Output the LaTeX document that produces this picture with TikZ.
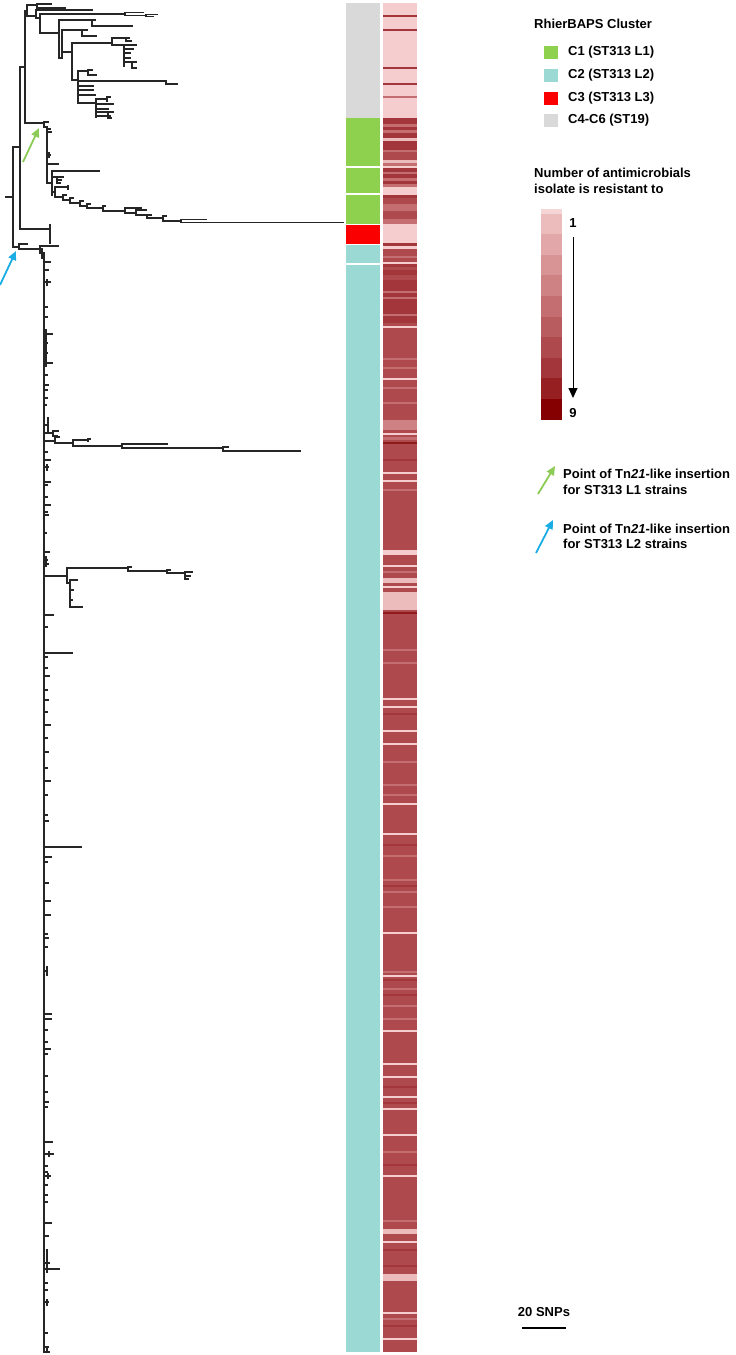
\documentclass[tikz,border=0pt]{standalone}
\usepackage{fontspec}
\setmainfont{Liberation Sans}
\usetikzlibrary{arrows.meta}
\definecolor{cgreen}{HTML}{8ED14F}
\definecolor{cteal}{HTML}{9AD9D4}
\definecolor{cred}{HTML}{FA0000}
\definecolor{cgray}{HTML}{D9D9D9}
\definecolor{hp}{HTML}{F5CDCE}
\definecolor{ha}{HTML}{ECBCBD}
\definecolor{hm}{HTML}{C46E72}
\definecolor{hb}{HTML}{AE4A4E}
\definecolor{hd}{HTML}{A2363A}
\definecolor{hx}{HTML}{8E1A1A}
\definecolor{l0}{HTML}{F5D5D5}
\definecolor{l1}{HTML}{ECBCBD}
\definecolor{l2}{HTML}{E2A7A8}
\definecolor{l3}{HTML}{D89495}
\definecolor{l4}{HTML}{CF8284}
\definecolor{l5}{HTML}{C46E72}
\definecolor{l6}{HTML}{B95C60}
\definecolor{l7}{HTML}{AE4A4E}
\definecolor{l8}{HTML}{A2363A}
\definecolor{l9}{HTML}{961F22}
\definecolor{l10}{HTML}{850000}
\definecolor{agreen}{HTML}{8CCB55}
\definecolor{ablue}{HTML}{1AADE4}
\tikzset{
  tree/.style={line width=1.1pt, draw=black!85, line cap=rect},
  lab/.style={font=\fontsize{13}{15}\selectfont\bfseries, inner sep=0pt, anchor=west},
  ptr/.style={line width=1.8pt, -{Triangle[length=9pt,width=8pt]}},
}
\newcommand\tH[3]{\draw[tree] (#1,#3)--(#2,#3);}
\newcommand\tV[3]{\draw[tree] (#1,#2)--(#1,#3);}
\begin{document}
\begin{tikzpicture}[x=1pt,y=-1pt]
\useasboundingbox (0,0) rectangle (736,1355);
% ---------------- tree: root
\tH{6}{13}{197} \tV{13}{147}{247}
\tH{13}{20}{147} \tV{20}{67}{229}
\tH{20}{25}{67} \tV{25}{11}{123}
% ST19
\tH{25}{27}{11} \tV{27}{5}{16}
\tH{27}{37}{5} \tV{37}{4}{8} \tH{37}{51}{4} \tH{37}{65}{8}
\tH{27}{36}{16} \tV{36}{10}{18} \tH{36}{92}{10}
\tH{36}{40}{18} \tV{40}{14}{33}
\tH{40}{125}{14} \tV{125}{12.5}{15.5} \tH{125}{143}{12.5} \tH{125}{146}{15.5}
\tV{146}{14.5}{16.5} \tH{146}{157}{14.5} \tH{146}{153}{16.5}
\tH{40}{59}{33} \tV{59}{20}{58}
\tH{59}{95}{20} \tV{92}{20}{26} \tH{92}{132}{26}
\tH{59}{62}{58} \tV{62}{30}{58}
\tH{62}{82}{30} \tV{82}{30}{36} \tH{82}{87}{30} \tH{82}{96}{36}
\tH{62}{72}{52} \tV{72}{43}{80}
\tH{72}{112}{43} \tV{112}{38}{45} \tH{112}{126}{38} \tV{126}{38}{41} \tH{126}{129}{38} \tH{126}{131}{41}
\tH{112}{124}{45} \tV{124}{45}{66}
\tH{124}{136}{45} \tH{124}{133}{49} \tH{124}{130}{53} \tH{124}{130}{58} \tH{124}{136}{62}
\tV{132}{62}{68} \tH{132}{136}{68}
\tH{72}{78}{80} \tV{78}{71}{103}
\tH{78}{88}{71} \tV{88}{70}{75} \tH{88}{92}{70} \tH{88}{96}{75}
\tH{78}{166}{81} \tV{166}{81}{84} \tH{166}{177}{84}
\tH{78}{93}{86} \tH{78}{93}{90} \tH{78}{95}{95}
\tH{78}{96}{103} \tV{96}{99}{117}
\tH{96}{107}{99} \tV{107}{97}{101} \tH{107}{110}{97}
\tH{96}{113}{104} \tH{96}{108}{109} \tH{96}{113}{112}
\tV{108}{113}{118} \tH{108}{111}{118} \tH{96}{110}{116}
% L1
\tH{25}{44}{123} \tV{44}{122}{127} \tH{44}{48}{122} \tH{44}{47}{127}
\tV{47}{127}{183}
\tH{47}{50}{129} \tH{47}{51}{132} \tH{47}{50}{155} \tV{49}{153}{157} \tH{47}{58}{164}
\tH{47}{52}{183} \tV{52}{171}{195}
\tH{52}{99}{171}
\tH{52}{57}{177} \tV{57}{177}{183} \tH{57}{63}{177} \tH{57}{61}{180} \tH{57}{60}{183}
\tH{52}{55}{192} \tV{55}{187}{197} \tH{55}{68}{187} \tV{68}{186}{189}
\tH{55}{63}{197} \tV{63}{195}{200} \tH{63}{66}{195}
\tH{63}{70}{200} \tV{70}{198}{203} \tH{70}{73}{198}
\tH{70}{80}{203} \tV{80}{201}{206} \tH{80}{83}{201}
\tH{80}{87}{206} \tV{87}{204}{208} \tH{87}{90}{204}
\tH{87}{103}{208} \tV{103}{206}{211} \tH{103}{105}{206}
\tH{103}{125}{211} \tV{125}{208}{213} \tH{125}{141}{208} \tH{125}{136}{213}
\tV{136}{210}{215} \tH{136}{146}{210} \tH{136}{147}{215}
\tV{147}{215}{218} \tH{147}{151}{215}
\tH{147}{163}{218} \tV{163}{216}{221} \tH{163}{166}{216}
\tH{163}{181}{221} \tV{181}{219.5}{222.5} \tH{181}{206}{219.5} \tH{181}{343}{222.5}
% L3
\tH{20}{50}{229} \tV{50}{225}{243}
% L2
\tH{13}{19}{247} \tV{19}{244}{249} \tH{19}{27}{244}
\tH{19}{40}{249} \tV{40}{246}{253} \tH{40}{58}{246} \tH{40}{44}{253}
\tV{42}{249}{258}
\tV{44}{253}{1352}
\foreach \y/\x in {262/50,270/48,282/50,307/47,317/47,330/46,334/52,343/47,353/47,363/52,375/47,385/48,390/47,398/47,405/46,
  452/47,460/50,482/50,485/47,497/47,505/50,512/47,515/48,533/46,552/49,560/47,564/48,
  615/53,627/47,653/72,657/47,668/47,676/49,690/47,700/48,712/47,725/50,738/47,752/48,768/47,781/50,795/47,
  815/47,821/48,847/81,857/51,862/47,883/48,901/50,915/50,934/47,938/48,947/47,971/47,1014/51,1019/51,1030/47,
  1042/47,1049/50,1054/47,1076/47,1092/47,1102/48,1107/47,1142/52,1154/53,1166/47,1172/47,1176/50,1185/47,
  1195/47,1202/47,1223/51,1236/48,1263/49,1269/59,1283/47,1290/47,1302/48,1333/47,1347/48,1352/49}
  {\tH{44}{\x}{\y}}
\tV{47}{280}{285} \tV{46}{330}{366} \tV{48}{418}{432} \tH{44}{48}{425}
\tV{47}{465}{470} \tH{44}{48}{467} \tV{46}{557}{566} \tV{47}{967}{975}
\tV{49}{1152}{1156} \tV{48}{1174}{1178} \tV{47}{1250}{1272} \tV{47}{1300}{1305} \tV{47}{1347}{1352}
% clade at 440
\tH{44}{53}{433} \tV{53}{431}{436} \tH{53}{58}{431} \tH{53}{57}{436}
\tH{44}{55}{441} \tV{55}{437}{443} \tH{55}{59}{437}
\tH{55}{73}{443} \tV{73}{440}{446} \tH{73}{88}{440} \tV{88}{439}{441} \tH{88}{90}{439}
\tH{73}{122}{446} \tV{122}{444}{448} \tH{122}{167}{444}
\tH{122}{223}{448} \tV{223}{447}{451} \tH{223}{228}{447} \tH{223}{300}{451}
% clade at 576
\tH{44}{67}{576} \tV{67}{568}{583}
\tH{67}{128}{568} \tV{128}{567}{571} \tH{128}{131}{567}
\tH{128}{167}{571} \tV{167}{570}{573} \tH{167}{170}{570}
\tH{167}{185}{573} \tV{185}{572}{579} \tH{185}{192}{572} \tH{185}{190}{576} \tH{185}{188}{579}
\tH{67}{70}{583} \tV{70}{580}{607} \tH{70}{77}{580} \tH{70}{73}{590} \tH{70}{72}{600} \tH{70}{82}{607}
% arrows in tree
\coordinate (ga0) at (23,162); \coordinate (ga1) at (39,128);
\draw[ptr, agreen] (ga0) -- (ga1);
\coordinate (ba0) at (0,285); \coordinate (ba1) at (16,251);
\draw[ptr, ablue] (ba0) -- (ba1);
% ---------------- cluster strip
\fill[cgray] (346,3) rectangle (380,118);
\fill[cgreen] (346,118) rectangle (380,166);
\fill[cgreen] (346,168) rectangle (380,193);
\fill[cgreen] (346,195) rectangle (380,224);
\fill[cred] (346,225) rectangle (380,244);
\fill[cteal] (346,245) rectangle (380,263);
\fill[cteal] (346,265) rectangle (380,1352);
% ---------------- heat strip
\fill[hp] (383,3) rectangle (417,118);
\fill[hb] (383,118) rectangle (417,1352);
\foreach \a/\b/\c in {15/17/hd,29/31/hd,67/69/hd,83/85/hd,96/98/hm,
  118/124/hd,124/127/hm,127/130/hd,130/133/hm,133/138/hd,138/141/ha,141/150/hd,150/152/hm,160/163/ha,163/166/hm,166/168/hp,
  168/172/hd,172/174/hm,174/178/hd,178/181/hm,181/184/hd,184/187/hm,187/195/hp,195/198/hd,204/211/hm,219/224/hm,
  224/243/hp,243/246/hd,246/249/hp,256/258/hm,262/264/hp,264/267/hd,270/275/hd,
  280/323/hd,291/293/hm,297/299/hm,314/316/hm,326/328/hp,358/360/hm,367/369/hm,378/380/hp,387/389/hm,402/404/hm,
  420/430/l4,433/435/hp,437/440/hm,442/444/hx,459/461/hd,472/474/hp,480/482/hp,489/491/hm,550/555/hp,565/567/hp,
  571/573/hm,578/583/ha,586/588/hp,592/610/ha,612/614/hx,649/651/hm,662/664/hm,
  698/700/hp,706/708/hp,713/715/hd,730/732/hp,743/745/hp,761/763/hm,784/786/hm,794/796/hm,803/805/hp,833/835/hp,
  844/846/hd,855/857/hm,879/881/hm,885/887/hd,891/893/hm,906/908/hm,932/934/hp,971/973/hm,975/977/hp,979/981/hd,
  988/990/hm,994/996/hd,1005/1007/hm,1018/1020/hm,1030/1032/hp,1063/1065/hp,1076/1078/hp,1086/1088/hd,1096/1098/hp,
  1102/1104/hd,1108/1110/hp,1134/1136/hp,1151/1153/hm,1164/1166/hd,1175/1177/hp,1220/1222/hm,1229/1234/ha,1241/1243/hp,
  1249/1251/hd,1265/1267/hd,1274/1281/ha,1312/1314/hp,1318/1320/hm,1325/1327/hd,1338/1340/hp}
  {\fill[\c] (383,\a) rectangle (417,\b);}
% ---------------- legend
\node[lab] (title) at (534,24) {RhierBAPS Cluster};
\fill[cgreen] (544,46) rectangle (558,59);
\fill[cteal] (544,69) rectangle (558,82);
\fill[cred] (544,92) rectangle (558,105);
\fill[cgray] (544,114) rectangle (558,127);
\node[lab] (c1) at (568,52) {C1 (ST313 L1)};
\node[lab] (c2) at (568,75) {C2 (ST313 L2)};
\node[lab] (c3) at (568,98) {C3 (ST313 L3)};
\node[lab] (c4) at (568,120) {C4-C6 (ST19)};
\node[lab] (num1) at (534,173) {Number of antimicrobials};
\node[lab] (num2) at (534,189) {isolate is resistant to};
\fill[l0] (541,209) rectangle (562,214);
\foreach \i/\c in {0/l1,1/l2,2/l3,3/l4,4/l5,5/l6,6/l7,7/l8,8/l9,9/l10}
  {\fill[\c] (541,{213.5+20.6*\i}) rectangle (562,{213.5+20.6*(\i+1)});}
\node[lab, anchor=center] (one) at (573,223) {1};
\node[lab, anchor=center] (nine) at (573,413) {9};
\coordinate (sa0) at (573,237); \coordinate (sa1) at (573,398);
\draw[line width=1pt, -{Triangle[length=10pt,width=9pt]}] (sa0) -- (sa1);
% arrow legend
\coordinate (lg0) at (538,494); \coordinate (lg1) at (555,466);
\draw[ptr, agreen] (lg0) -- (lg1);
\node[lab] (g1) at (563,474) {Point of Tn\textit{21}-like insertion};
\node[lab] (g2) at (563,490) {for ST313 L1 strains};
\coordinate (lb0) at (536,553); \coordinate (lb1) at (553,520);
\draw[ptr, ablue] (lb0) -- (lb1);
\node[lab] (b1) at (563,529) {Point of Tn\textit{21}-like insertion};
\node[lab] (b2) at (563,544) {for ST313 L2 strains};
% scale bar
\node[lab, anchor=center] (snp) at (544,1312) {20 SNPs};
\coordinate (s0) at (522,1328); \coordinate (s1) at (566,1328);
\draw[line width=2.6pt] (s0) -- (s1);
\end{tikzpicture}
\end{document}
